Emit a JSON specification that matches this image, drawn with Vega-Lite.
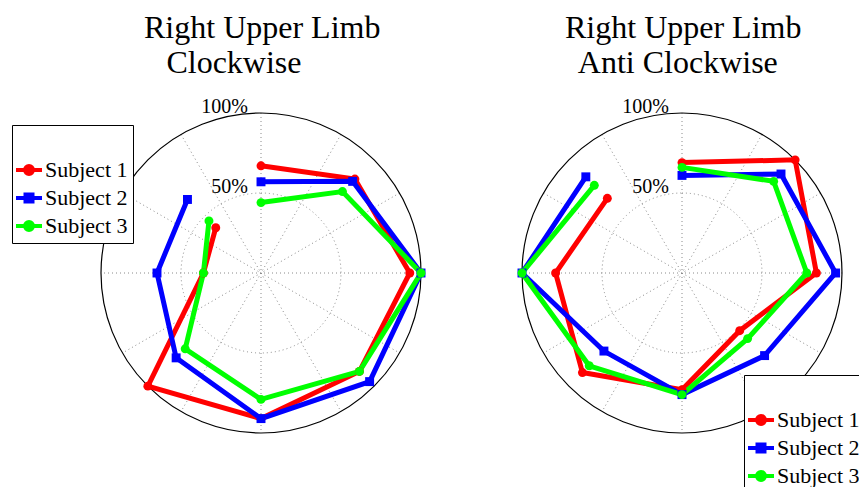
{
  "$schema": "https://vega.github.io/schema/vega-lite/v6.json",
  "padding": {"left": 11, "top": 12, "right": 0, "bottom": 0},
  "bounds": "flush",
  "spacing": 101,
  "background": "white",
  "config": {"view": {"stroke": null}, "font": "Liberation Serif"},
  "resolve": {"legend": {"color": "independent"}},
  "datasets": {
    "spokes": [{"angle": 0}, {"angle": 30}, {"angle": 60}, {"angle": 90}, {"angle": 120}, {"angle": 150}],
    "outer": [{"r": 1}],
    "inner": [{"r": 0.5}],
    "labels": [{"r": 1, "label": "100%"}, {"r": 0.5, "label": "50%"}],
    "cw": [
      {"subject": "Subject 1", "i": 0, "angle": 90, "r": 0.67},
      {"subject": "Subject 1", "i": 1, "angle": 45, "r": 0.83},
      {"subject": "Subject 1", "i": 2, "angle": 0, "r": 0.93},
      {"subject": "Subject 1", "i": 3, "angle": -45, "r": 0.87},
      {"subject": "Subject 1", "i": 4, "angle": -90, "r": 0.91},
      {"subject": "Subject 1", "i": 5, "angle": -135, "r": 1.0},
      {"subject": "Subject 1", "i": 6, "angle": 180, "r": 0.36},
      {"subject": "Subject 1", "i": 7, "angle": 135, "r": 0.40},
      {"subject": "Subject 2", "i": 0, "angle": 90, "r": 0.57},
      {"subject": "Subject 2", "i": 1, "angle": 45, "r": 0.81},
      {"subject": "Subject 2", "i": 2, "angle": 0, "r": 1.0},
      {"subject": "Subject 2", "i": 3, "angle": -45, "r": 0.96},
      {"subject": "Subject 2", "i": 4, "angle": -90, "r": 0.91},
      {"subject": "Subject 2", "i": 5, "angle": -135, "r": 0.75},
      {"subject": "Subject 2", "i": 6, "angle": 180, "r": 0.65},
      {"subject": "Subject 2", "i": 7, "angle": 135, "r": 0.65},
      {"subject": "Subject 3", "i": 0, "angle": 90, "r": 0.44},
      {"subject": "Subject 3", "i": 1, "angle": 45, "r": 0.72},
      {"subject": "Subject 3", "i": 2, "angle": 0, "r": 1.0},
      {"subject": "Subject 3", "i": 3, "angle": -45, "r": 0.87},
      {"subject": "Subject 3", "i": 4, "angle": -90, "r": 0.79},
      {"subject": "Subject 3", "i": 5, "angle": -135, "r": 0.67},
      {"subject": "Subject 3", "i": 6, "angle": 180, "r": 0.36},
      {"subject": "Subject 3", "i": 7, "angle": 135, "r": 0.46}
    ],
    "acw": [
      {"subject": "Subject 1", "i": 0, "angle": 90, "r": 0.69},
      {"subject": "Subject 1", "i": 1, "angle": 45, "r": 1.0},
      {"subject": "Subject 1", "i": 2, "angle": 0, "r": 0.84},
      {"subject": "Subject 1", "i": 3, "angle": -45, "r": 0.51},
      {"subject": "Subject 1", "i": 4, "angle": -90, "r": 0.73},
      {"subject": "Subject 1", "i": 5, "angle": -135, "r": 0.88},
      {"subject": "Subject 1", "i": 6, "angle": 180, "r": 0.79},
      {"subject": "Subject 1", "i": 7, "angle": 135, "r": 0.66},
      {"subject": "Subject 2", "i": 0, "angle": 90, "r": 0.61},
      {"subject": "Subject 2", "i": 1, "angle": 45, "r": 0.875},
      {"subject": "Subject 2", "i": 2, "angle": 0, "r": 0.96},
      {"subject": "Subject 2", "i": 3, "angle": -45, "r": 0.73},
      {"subject": "Subject 2", "i": 4, "angle": -90, "r": 0.76},
      {"subject": "Subject 2", "i": 5, "angle": -135, "r": 0.69},
      {"subject": "Subject 2", "i": 6, "angle": 180, "r": 1.0},
      {"subject": "Subject 2", "i": 7, "angle": 135, "r": 0.85},
      {"subject": "Subject 3", "i": 0, "angle": 90, "r": 0.66},
      {"subject": "Subject 3", "i": 1, "angle": 45, "r": 0.81},
      {"subject": "Subject 3", "i": 2, "angle": 0, "r": 0.78},
      {"subject": "Subject 3", "i": 3, "angle": -45, "r": 0.58},
      {"subject": "Subject 3", "i": 4, "angle": -90, "r": 0.76},
      {"subject": "Subject 3", "i": 5, "angle": -135, "r": 0.82},
      {"subject": "Subject 3", "i": 6, "angle": 180, "r": 1.0},
      {"subject": "Subject 3", "i": 7, "angle": 135, "r": 0.775}
    ]
  },
  "hconcat": [
    {
      "width": 320,
      "height": 320,
      "title": {"text": ["Right Upper Limb", "\u200b\u00a0\u00a0\u2009Clockwise"], "anchor": "start", "frame": "group", "dx": 43, "fontSize": 32, "fontWeight": "normal", "font": "Liberation Serif", "lineHeight": 35, "offset": 17, "color": "black"},
      "layer": [
        {
          "data": {"name": "spokes"},
          "transform": [
            {"calculate": "cos(datum.angle*PI/180)", "as": "xa"},
            {"calculate": "sin(datum.angle*PI/180)", "as": "ya"},
            {"calculate": "-cos(datum.angle*PI/180)", "as": "xb"},
            {"calculate": "-sin(datum.angle*PI/180)", "as": "yb"}
          ],
          "mark": {"type": "rule", "color": "#8a8a8a", "strokeWidth": 1, "strokeDash": [1, 3]},
          "encoding": {
            "x": {"field": "xa", "type": "quantitative", "scale": {"domain": [-1, 1], "nice": false, "zero": false}, "axis": null},
            "y": {"field": "ya", "type": "quantitative", "scale": {"domain": [-1, 1], "nice": false, "zero": false}, "axis": null},
            "x2": {"field": "xb"},
            "y2": {"field": "yb"}
          }
        },
        {
          "data": {"name": "inner"},
          "mark": {"type": "arc", "filled": false, "stroke": "#8a8a8a", "strokeWidth": 1, "strokeDash": [1, 3], "theta": 0, "theta2": 6.2832},
          "encoding": {"radius": {"field": "r", "type": "quantitative", "scale": {"type": "linear", "domain": [0, 1], "range": [0, 160]}}}
        },
        {
          "data": {"name": "outer"},
          "mark": {"type": "arc", "filled": false, "stroke": "black", "strokeWidth": 1.2, "theta": 0, "theta2": 6.2832},
          "encoding": {"radius": {"field": "r", "type": "quantitative", "scale": {"type": "linear", "domain": [0, 1], "range": [0, 160]}}}
        },
        {
          "data": {"name": "labels"},
          "mark": {"type": "text", "align": "right", "baseline": "alphabetic", "dx": -13, "dy": 0, "fontSize": 20, "font": "Liberation Serif", "color": "black"},
          "encoding": {
            "x": {"datum": 0, "type": "quantitative", "scale": {"domain": [-1, 1], "nice": false, "zero": false}, "axis": null},
            "y": {"field": "r", "type": "quantitative", "scale": {"domain": [-1, 1], "nice": false, "zero": false}, "axis": null},
            "text": {"field": "label"}
          }
        },
        {
          "data": {"name": "cw"},
          "transform": [
            {"calculate": "datum.r*cos(datum.angle*PI/180)", "as": "x"},
            {"calculate": "datum.r*sin(datum.angle*PI/180)", "as": "y"}
          ],
          "layer": [
            {
              "mark": {"type": "line", "strokeWidth": 5, "strokeJoin": "miter"},
              "encoding": {
                "x": {"field": "x", "type": "quantitative", "scale": {"domain": [-1, 1], "nice": false, "zero": false}, "axis": null},
                "y": {"field": "y", "type": "quantitative", "scale": {"domain": [-1, 1], "nice": false, "zero": false}, "axis": null},
                "order": {"field": "i"},
                "color": {"field": "subject", "type": "nominal", "scale": {"domain": ["Subject 1", "Subject 2", "Subject 3"], "range": ["#ff0000", "#0000ff", "#00ff00"]},
                  "legend": {"orient": "none", "legendX": -89, "legendY": 12, "title": "\u200b", "titleFontSize": 20, "titlePadding": 8, "labelFont": "Liberation Serif", "labelFontSize": 22, "labelColor": "black", "labelOffset": 4, "symbolSize": 400, "strokeColor": "black", "fillColor": "white", "padding": 5, "rowPadding": 4,
                    "encode": {"symbols": {"update": {
                      "shape": {"signal": "datum.value === 'Subject 2' ? 'M-1.3,0H1.3M-0.35,-0.35H0.35V0.35H-0.35Z' : 'M-1.3,0H1.3M-0.4,0A0.4,0.4,0,1,1,0.4,0A0.4,0.4,0,1,1,-0.4,0Z'"},
                      "fill": {"signal": "datum.value === 'Subject 1' ? '#ff0000' : datum.value === 'Subject 2' ? '#0000ff' : '#00ff00'"},
                      "stroke": {"signal": "datum.value === 'Subject 1' ? '#ff0000' : datum.value === 'Subject 2' ? '#0000ff' : '#00ff00'"},
                      "strokeWidth": {"value": 4},
                      "opacity": {"value": 1}
                    }}}}
                }
              }
            },
            {
              "mark": {"type": "point", "filled": true, "opacity": 1, "size": 80},
              "encoding": {
                "x": {"field": "x", "type": "quantitative"},
                "y": {"field": "y", "type": "quantitative"},
                "shape": {"field": "subject", "type": "nominal", "scale": {"domain": ["Subject 1", "Subject 2", "Subject 3"], "range": ["circle", "square", "circle"]}, "legend": null},
                "color": {"field": "subject", "type": "nominal"}
              }
            }
          ]
        }
      ]
    },
    {
      "width": 320,
      "height": 320,
      "title": {"text": ["Right Upper Limb", "\u200b\u2009\u2009Anti Clockwise"], "anchor": "start", "frame": "group", "dx": 43, "fontSize": 32, "fontWeight": "normal", "font": "Liberation Serif", "lineHeight": 35, "offset": 17, "color": "black"},
      "layer": [
        {
          "data": {"name": "spokes"},
          "transform": [
            {"calculate": "cos(datum.angle*PI/180)", "as": "xa"},
            {"calculate": "sin(datum.angle*PI/180)", "as": "ya"},
            {"calculate": "-cos(datum.angle*PI/180)", "as": "xb"},
            {"calculate": "-sin(datum.angle*PI/180)", "as": "yb"}
          ],
          "mark": {"type": "rule", "color": "#8a8a8a", "strokeWidth": 1, "strokeDash": [1, 3]},
          "encoding": {
            "x": {"field": "xa", "type": "quantitative", "scale": {"domain": [-1, 1], "nice": false, "zero": false}, "axis": null},
            "y": {"field": "ya", "type": "quantitative", "scale": {"domain": [-1, 1], "nice": false, "zero": false}, "axis": null},
            "x2": {"field": "xb"},
            "y2": {"field": "yb"}
          }
        },
        {
          "data": {"name": "inner"},
          "mark": {"type": "arc", "filled": false, "stroke": "#8a8a8a", "strokeWidth": 1, "strokeDash": [1, 3], "theta": 0, "theta2": 6.2832},
          "encoding": {"radius": {"field": "r", "type": "quantitative", "scale": {"type": "linear", "domain": [0, 1], "range": [0, 160]}}}
        },
        {
          "data": {"name": "outer"},
          "mark": {"type": "arc", "filled": false, "stroke": "black", "strokeWidth": 1.2, "theta": 0, "theta2": 6.2832},
          "encoding": {"radius": {"field": "r", "type": "quantitative", "scale": {"type": "linear", "domain": [0, 1], "range": [0, 160]}}}
        },
        {
          "data": {"name": "labels"},
          "mark": {"type": "text", "align": "right", "baseline": "alphabetic", "dx": -13, "dy": 0, "fontSize": 20, "font": "Liberation Serif", "color": "black"},
          "encoding": {
            "x": {"datum": 0, "type": "quantitative", "scale": {"domain": [-1, 1], "nice": false, "zero": false}, "axis": null},
            "y": {"field": "r", "type": "quantitative", "scale": {"domain": [-1, 1], "nice": false, "zero": false}, "axis": null},
            "text": {"field": "label"}
          }
        },
        {
          "data": {"name": "acw"},
          "transform": [
            {"calculate": "datum.r*cos(datum.angle*PI/180)", "as": "x"},
            {"calculate": "datum.r*sin(datum.angle*PI/180)", "as": "y"}
          ],
          "layer": [
            {
              "mark": {"type": "line", "strokeWidth": 5, "strokeJoin": "miter"},
              "encoding": {
                "x": {"field": "x", "type": "quantitative", "scale": {"domain": [-1, 1], "nice": false, "zero": false}, "axis": null},
                "y": {"field": "y", "type": "quantitative", "scale": {"domain": [-1, 1], "nice": false, "zero": false}, "axis": null},
                "order": {"field": "i"},
                "color": {"field": "subject", "type": "nominal", "scale": {"domain": ["Subject 1", "Subject 2", "Subject 3"], "range": ["#ff0000", "#0000ff", "#00ff00"]},
                  "legend": {"orient": "none", "legendX": 222, "legendY": 262, "title": "\u200b", "titleFontSize": 20, "titlePadding": 8, "labelFont": "Liberation Serif", "labelFontSize": 22, "labelColor": "black", "labelOffset": 4, "symbolSize": 400, "strokeColor": "black", "fillColor": "white", "padding": 5, "rowPadding": 4,
                    "encode": {"symbols": {"update": {
                      "shape": {"signal": "datum.value === 'Subject 2' ? 'M-1.3,0H1.3M-0.35,-0.35H0.35V0.35H-0.35Z' : 'M-1.3,0H1.3M-0.4,0A0.4,0.4,0,1,1,0.4,0A0.4,0.4,0,1,1,-0.4,0Z'"},
                      "fill": {"signal": "datum.value === 'Subject 1' ? '#ff0000' : datum.value === 'Subject 2' ? '#0000ff' : '#00ff00'"},
                      "stroke": {"signal": "datum.value === 'Subject 1' ? '#ff0000' : datum.value === 'Subject 2' ? '#0000ff' : '#00ff00'"},
                      "strokeWidth": {"value": 4},
                      "opacity": {"value": 1}
                    }}}}
                }
              }
            },
            {
              "mark": {"type": "point", "filled": true, "opacity": 1, "size": 80},
              "encoding": {
                "x": {"field": "x", "type": "quantitative"},
                "y": {"field": "y", "type": "quantitative"},
                "shape": {"field": "subject", "type": "nominal", "scale": {"domain": ["Subject 1", "Subject 2", "Subject 3"], "range": ["circle", "square", "circle"]}, "legend": null},
                "color": {"field": "subject", "type": "nominal"}
              }
            }
          ]
        }
      ]
    }
  ]
}
